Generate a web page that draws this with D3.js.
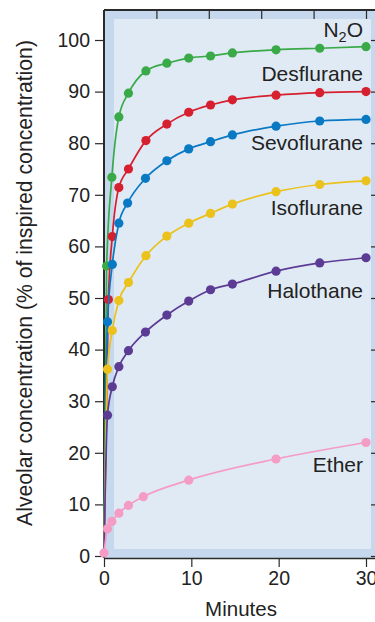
<!DOCTYPE html>
<html><head><meta charset="utf-8">
<script src="https://cdn.jsdelivr.net/npm/d3@7"></script>
<style>html,body{margin:0;padding:0;background:#fff;}svg{display:block;font-family:"Liberation Sans",Arial,sans-serif;}</style>
</head><body>
<script>
// ---- data ----
const seriesNames = ["N2O", "Desflurane", "Sevoflurane", "Isoflurane", "Halothane", "Ether"];
const colors = ["#3aaa48", "#d7202f", "#0a79c3", "#eac21b", "#5c3b94", "#f59cc4"];
const timesN2O = [0, 0.3, 0.9, 1.7, 2.8, 4.8, 7.2, 9.7, 12.2, 14.7, 19.7, 24.7, 30];
const timesDes = [0, 0.5, 0.95, 1.7, 2.8, 4.8, 7.2, 9.7, 12.2, 14.7, 19.7, 24.7, 30];
const timesSevo = [0, 0.4, 0.95, 1.7, 2.7, 4.75, 7.2, 9.7, 12.2, 14.7, 19.7, 24.7, 30];
const timesIso = [0, 0.4, 0.95, 1.7, 2.8, 4.8, 7.2, 9.7, 12.2, 14.7, 19.7, 24.7, 30];
const timesHalo = [0, 0.4, 0.95, 1.7, 2.8, 4.75, 7.2, 9.7, 12.2, 14.7, 19.7, 24.7, 30];
const timesEther = [0, 0.4, 0.9, 1.7, 2.8, 4.5, 9.7, 19.7, 30];
const n2oValues = [0.6, 56.2, 73.4, 85.1, 89.7, 94.0, 95.5, 96.5, 96.9, 97.5, 98.1, 98.4, 98.7];
const desValues = [0.6, 49.7, 61.9, 71.4, 75.0, 80.5, 83.7, 86.0, 87.4, 88.4, 89.3, 89.8, 90.0];
const sevoValues = [0.6, 45.4, 56.5, 64.5, 68.4, 73.2, 76.6, 78.9, 80.3, 81.6, 83.3, 84.3, 84.6];
const isoValues = [0.6, 36.2, 43.7, 49.5, 53.0, 58.2, 62.0, 64.5, 66.4, 68.2, 70.6, 72.0, 72.7];
const haloValues = [0.6, 27.3, 32.8, 36.7, 39.8, 43.4, 46.7, 49.4, 51.6, 52.7, 55.2, 56.8, 57.8];
const etherValues = [0.6, 5.3, 6.7, 8.3, 9.8, 11.5, 14.7, 18.8, 22.0];
const yTicks = [0, 10, 20, 30, 40, 50, 60, 70, 80, 90, 100];
const xTicks = [0, 10, 20, 30];
const xTopTicks = [6, 12, 18, 24, 30];
const yTitle = "Alveolar concentration (% of inspired concentration)";
const xTitle = "Minutes";

(function () {
const seriesTimes = [timesN2O, timesDes, timesSevo, timesIso, timesHalo, timesEther];
const seriesValues = [n2oValues, desValues, sevoValues, isoValues, haloValues, etherValues];

const W = 375, H = 622;
const svg = d3.select("body").append("svg").attr("width", W).attr("height", H);

const x = d3.scaleLinear().domain([0, 30]).range([104, 366]);
const y = d3.scaleLinear().domain([0, 100]).range([556, 40]);

const pL = 104, pT = 10, pR = 378, pB = 558;
svg.append("rect").attr("x", pL).attr("y", pT).attr("width", pR - pL).attr("height", pB - pT).attr("fill", "#c6d8ed");
svg.append("rect").attr("x", 114).attr("y", 19).attr("width", 371 - 114).attr("height", 549 - 19).attr("fill", "#e0eaf5");

svg.append("line").attr("x1", pL).attr("x2", W).attr("y1", pT).attr("y2", pT).attr("stroke", "#2a2a2a").attr("stroke-width", 2);
svg.append("line").attr("x1", pL).attr("x2", pL).attr("y1", pT).attr("y2", pB).attr("stroke", "#2a2a2a").attr("stroke-width", 2);

const xAxis = d3.axisBottom(x).tickValues(xTicks).tickSize(9).tickPadding(4).tickFormat(d3.format("d"));
const gx = svg.append("g").attr("transform", `translate(0,${pB})`).call(xAxis);
gx.select(".domain").attr("d", `M${pL},0.5H${W}`).attr("stroke", "#2a2a2a").attr("stroke-width", 1.6);
gx.selectAll(".tick line").attr("stroke", "#2a2a2a").attr("stroke-width", 1.2);
gx.selectAll(".tick text").attr("font-size", 19.5).attr("fill", "#222").attr("font-family", "Liberation Sans, Arial, sans-serif");

const xTopAxis = d3.axisBottom(x).tickValues(xTopTicks).tickSize(9).tickFormat("");
const gt = svg.append("g").attr("transform", `translate(0,${pT})`).call(xTopAxis);
gt.select(".domain").remove();
gt.selectAll(".tick line").attr("stroke", "#2a2a2a").attr("stroke-width", 1.2);

const yAxis = d3.axisLeft(y).tickValues(yTicks).tickSize(9).tickPadding(5).tickFormat(d3.format("d"));
const gy = svg.append("g").attr("transform", `translate(${pL},0)`).call(yAxis);
gy.select(".domain").remove();
gy.selectAll(".tick line").attr("stroke", "#2a2a2a").attr("stroke-width", 1.2);
gy.selectAll(".tick text").attr("font-size", 19.5).attr("fill", "#222").attr("font-family", "Liberation Sans, Arial, sans-serif");

const yRight = d3.axisRight(y).tickValues(yTicks).tickSize(5).tickFormat("");
const gr = svg.append("g").attr("transform", `translate(371,0)`).call(yRight);
gr.select(".domain").remove();
gr.selectAll(".tick line").attr("stroke", "#2a2a2a").attr("stroke-width", 1.2);

const line = d3.line().x(d => x(d[0])).y(d => y(d[1])).curve(d3.curveMonotoneX);
seriesNames.forEach((name, i) => {
  const pts = seriesTimes[i].map((t, j) => [t, seriesValues[i][j]]);
  svg.append("path").datum(pts).attr("d", line).attr("fill", "none").attr("stroke", colors[i]).attr("stroke-width", 1.7);
  const dotPts = name === "Ether" ? pts : pts.slice(1);
  svg.append("g").selectAll("circle").data(dotPts).join("circle")
    .attr("cx", d => x(d[0])).attr("cy", d => y(d[1])).attr("r", 4.6).attr("fill", colors[i]);
});

const labelY = [37, 81, 150, 215, 298, 472];
const lab = svg.append("g").attr("font-size", 21).attr("fill", "#222").attr("text-anchor", "end");
seriesNames.forEach((name, i) => {
  const t = lab.append("text").attr("x", 363).attr("y", labelY[i]);
  if (name === "N2O") {
    t.append("tspan").text("N");
    t.append("tspan").attr("font-size", 14.5).attr("dy", 5).text("2");
    t.append("tspan").attr("dy", -5).text("O");
  } else t.text(name);
});

const yt = svg.append("text").attr("transform", "translate(32,283) rotate(-90)").attr("text-anchor", "middle")
  .attr("font-size", 18.5).attr("fill", "#222").text(yTitle);
const len = yt.node().getComputedTextLength();
yt.attr("font-size", 18.5 * 486 / len);
svg.append("text").attr("x", 241).attr("y", 616).attr("text-anchor", "middle").attr("font-size", 20.5).attr("fill", "#222").text(xTitle);
})();
</script>
</body></html>
